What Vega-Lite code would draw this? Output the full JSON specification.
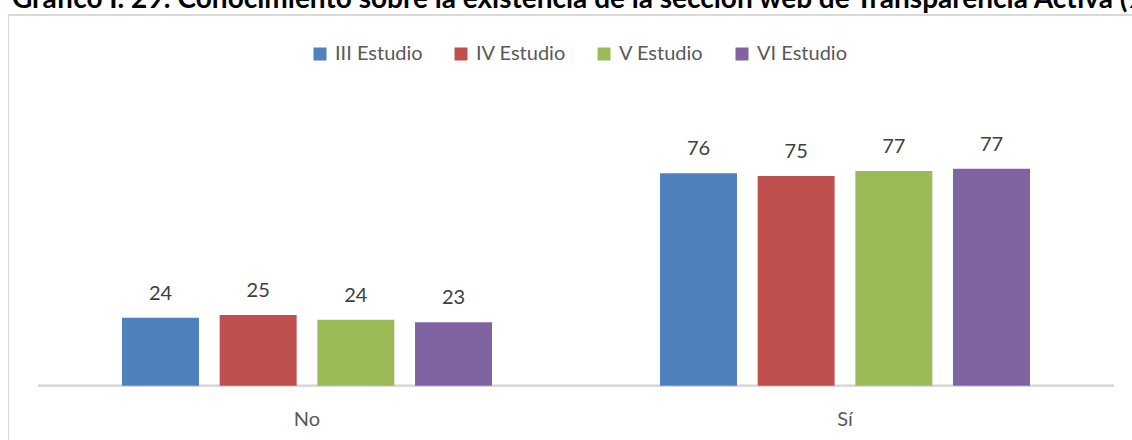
{
  "$schema": "https://vega.github.io/schema/vega-lite/v6.json",
  "autosize": "none",
  "width": 1124,
  "height": 425,
  "padding": {"left": 8, "top": 15, "right": 0, "bottom": 0},
  "background": "white",
  "config": {"view": {"stroke": null}, "font": "Lato"},
  "title": {
    "text": "Gráfico I. 29: Conocimiento sobre la existencia de la sección web de Transparencia Activa (%)",
    "anchor": "start",
    "frame": "group",
    "fontSize": 28,
    "fontWeight": "bold",
    "color": "#000000",
    "baseline": "alphabetic",
    "offset": -21,
    "dx": 4
  },
  "data": {
    "values": [
      {"respuesta": "No", "estudio": "III Estudio", "pct": 24.2},
      {"respuesta": "No", "estudio": "IV Estudio", "pct": 25.2},
      {"respuesta": "No", "estudio": "V Estudio", "pct": 23.55},
      {"respuesta": "No", "estudio": "VI Estudio", "pct": 22.6},
      {"respuesta": "Sí", "estudio": "III Estudio", "pct": 75.8},
      {"respuesta": "Sí", "estudio": "IV Estudio", "pct": 74.8},
      {"respuesta": "Sí", "estudio": "V Estudio", "pct": 76.55},
      {"respuesta": "Sí", "estudio": "VI Estudio", "pct": 77.4}
    ]
  },
  "encoding": {
    "y": {
      "field": "pct",
      "type": "quantitative",
      "scale": {"domain": [-19.36, 132.2], "nice": false, "zero": false},
      "axis": {"orient": "left", "domain": true, "domainColor": "#d9d9d9", "domainWidth": 1, "labels": false, "ticks": false, "grid": false, "title": null}
    }
  },
  "layer": [
    {
      "mark": {"type": "bar", "color": "#d9d9d9"},
      "encoding": {
        "x": {
          "field": "respuesta", "type": "nominal", "sort": ["No", "Sí"],
          "scale": {"paddingInner": 0, "paddingOuter": 0.0446, "align": 0.625},
          "axis": {"orient": "bottom", "offset": -54, "domain": false, "ticks": false, "labelPadding": 23, "labelFontSize": 20, "labelColor": "#595959", "labelAngle": 0, "title": null}
        },
        "y": {"datum": 0.36},
        "y2": {"datum": -0.36}
      }
    },
    {
      "mark": {"type": "bar"},
      "encoding": {
        "x": {"field": "respuesta", "type": "nominal", "sort": ["No", "Sí"]},
        "xOffset": {
          "field": "estudio", "type": "nominal",
          "sort": ["III Estudio", "IV Estudio", "V Estudio", "VI Estudio"],
          "scale": {"paddingInner": 0.212, "paddingOuter": 0.86}
        },
        "y2": {"datum": 0},
        "color": {
          "field": "estudio", "type": "nominal",
          "sort": ["III Estudio", "IV Estudio", "V Estudio", "VI Estudio"],
          "scale": {"domain": ["III Estudio", "IV Estudio", "V Estudio", "VI Estudio"], "range": ["#4F81BD", "#C0504D", "#9BBB59", "#8064A2"]},
          "legend": {
            "title": null,
            "orient": "none",
            "direction": "horizontal",
            "legendX": 302,
            "legendY": 29,
            "padding": 0,
            "symbolType": "square",
            "symbolSize": 169,
            "symbolStrokeWidth": 0,
            "labelOffset": 5,
            "columnPadding": 28,
            "labelFontSize": 20,
            "labelColor": "#595959"
          }
        }
      }
    },
    {
      "mark": {"type": "text", "baseline": "alphabetic", "dy": -18, "fontSize": 20, "color": "#404040"},
      "encoding": {
        "x": {"field": "respuesta", "type": "nominal", "sort": ["No", "Sí"]},
        "xOffset": {"field": "estudio", "type": "nominal", "sort": ["III Estudio", "IV Estudio", "V Estudio", "VI Estudio"]},
        "text": {"field": "pct", "type": "quantitative", "format": ".0f"}
      }
    },
    {
      "mark": {"type": "rule", "color": "#d9d9d9", "strokeWidth": 1},
      "encoding": {"y": {"datum": 132.2}}
    }
  ]
}
